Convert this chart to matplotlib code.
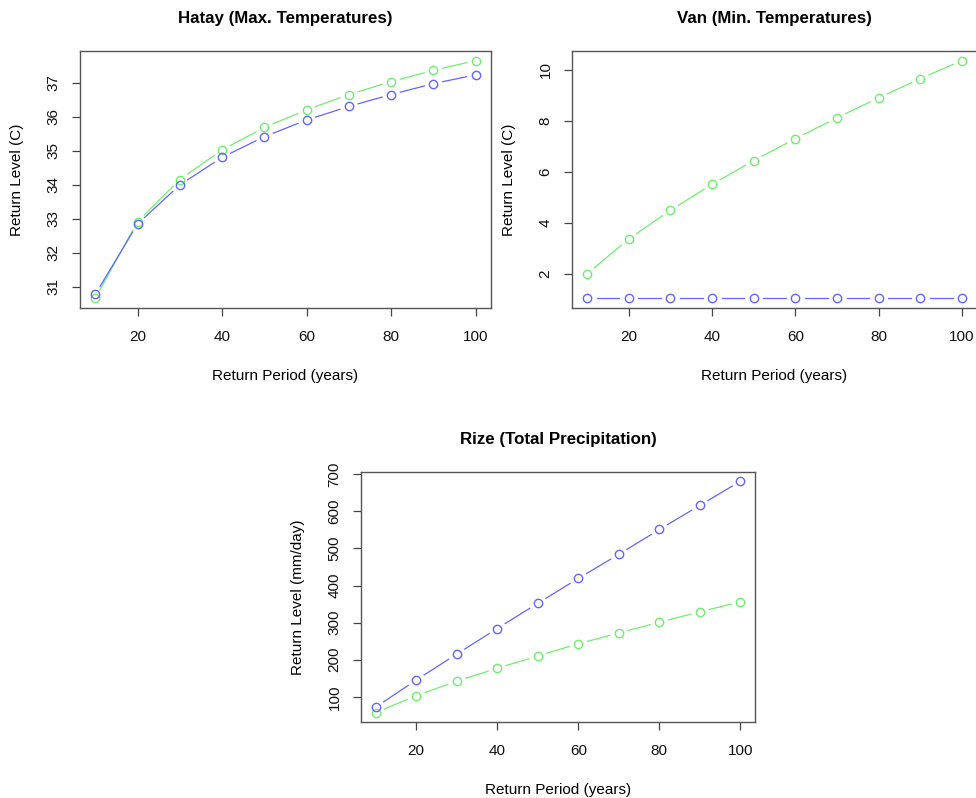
import numpy as np
import matplotlib
matplotlib.use("Agg")
import matplotlib.pyplot as plt

plt.rcParams['font.family'] = ['Liberation Sans', 'DejaVu Sans']

periods = [10, 20, 30, 40, 50, 60, 70, 80, 90, 100]

# Hatay (max. temperatures)
hatay_blue = [30.78, 32.85, 34.00, 34.81, 35.42, 35.91, 36.31, 36.66, 36.98, 37.24]
hatay_green = [30.66, 32.92, 34.16, 35.03, 35.69, 36.21, 36.66, 37.04, 37.37, 37.66]

# Van (min. temperatures)
van_blue = [1.04, 1.04, 1.04, 1.04, 1.04, 1.04, 1.04, 1.04, 1.04, 1.04]
van_green = [2.00, 3.37, 4.49, 5.51, 6.44, 7.30, 8.12, 8.90, 9.65, 10.36]

# Rize (total precipitation)
rize_blue = [72, 145, 215, 284, 352, 419, 484, 551, 616, 681]
rize_green = [57, 103, 142, 177, 210, 243, 272, 301, 329, 356]

BLUE = '#6464ff'
GREEN = '#70ee70'
W, H = 976, 798


def r_lims(vals):
    lo, hi = min(vals), max(vals)
    pad = (hi - lo) * 0.04
    return lo - pad, hi + pad


def type_b(ax, x, y, color, gap=9.5):
    # R style type="b": points with line segments that stop short of them
    ax.plot(x, y, linestyle='none', marker='o', markersize=6,
            markerfacecolor='none', markeredgecolor=color, markeredgewidth=1.0,
            zorder=3)
    pts = ax.transData.transform(np.column_stack([x, y]))
    inv = ax.transData.inverted()
    for p0, p1 in zip(pts[:-1], pts[1:]):
        d = p1 - p0
        L = np.hypot(*d)
        if L <= 2 * gap:
            continue
        u = d / L
        a = inv.transform(p0 + u * gap)
        b = inv.transform(p1 - u * gap)
        ax.plot([a[0], b[0]], [a[1], b[1]], color=color, lw=0.9, zorder=2)


def panel(left, top, right, bottom, title, ylabel, blue, green, yticks):
    ax = fig.add_axes([left / W, 1 - bottom / H, (right - left) / W, (bottom - top) / H])
    ax.set_xlim(*r_lims(periods))
    ax.set_ylim(*r_lims(blue + green))
    fig.canvas.draw()
    type_b(ax, periods, green, GREEN)
    type_b(ax, periods, blue, BLUE)
    ax.set_xticks([20, 40, 60, 80, 100])
    ax.set_yticks(yticks)
    ax.set_yticklabels([str(t) for t in yticks], rotation=90, va='center')
    for s in ax.spines.values():
        s.set_color('#555555')
        s.set_linewidth(1.0)
    ax.tick_params(axis='both', length=6, width=0.9, color='#444444',
                   labelsize=11, labelcolor='#111111', pad=8)
    ax.tick_params(axis='x', pad=10)
    ax.set_title(title, fontsize=12.2, fontweight='bold', pad=20)
    ax.set_xlabel('Return Period (years)', fontsize=11, labelpad=18)
    ax.set_ylabel(ylabel, fontsize=11, labelpad=16)
    return ax


fig = plt.figure(figsize=(W / 100, H / 100), dpi=100)

panel(80, 51, 491, 308, 'Hatay (Max. Temperatures)', 'Return Level (C)',
      hatay_blue, hatay_green, [31, 32, 33, 34, 35, 36, 37])
panel(572, 51, 977, 308, 'Van (Min. Temperatures)', 'Return Level (C)',
      van_blue, van_green, [2, 4, 6, 8, 10])
panel(361, 472, 755, 722, 'Rize (Total Precipitation)', 'Return Level (mm/day)',
      rize_blue, rize_green, [100, 200, 300, 400, 500, 600, 700])

fig.savefig('out.png', dpi=100)
